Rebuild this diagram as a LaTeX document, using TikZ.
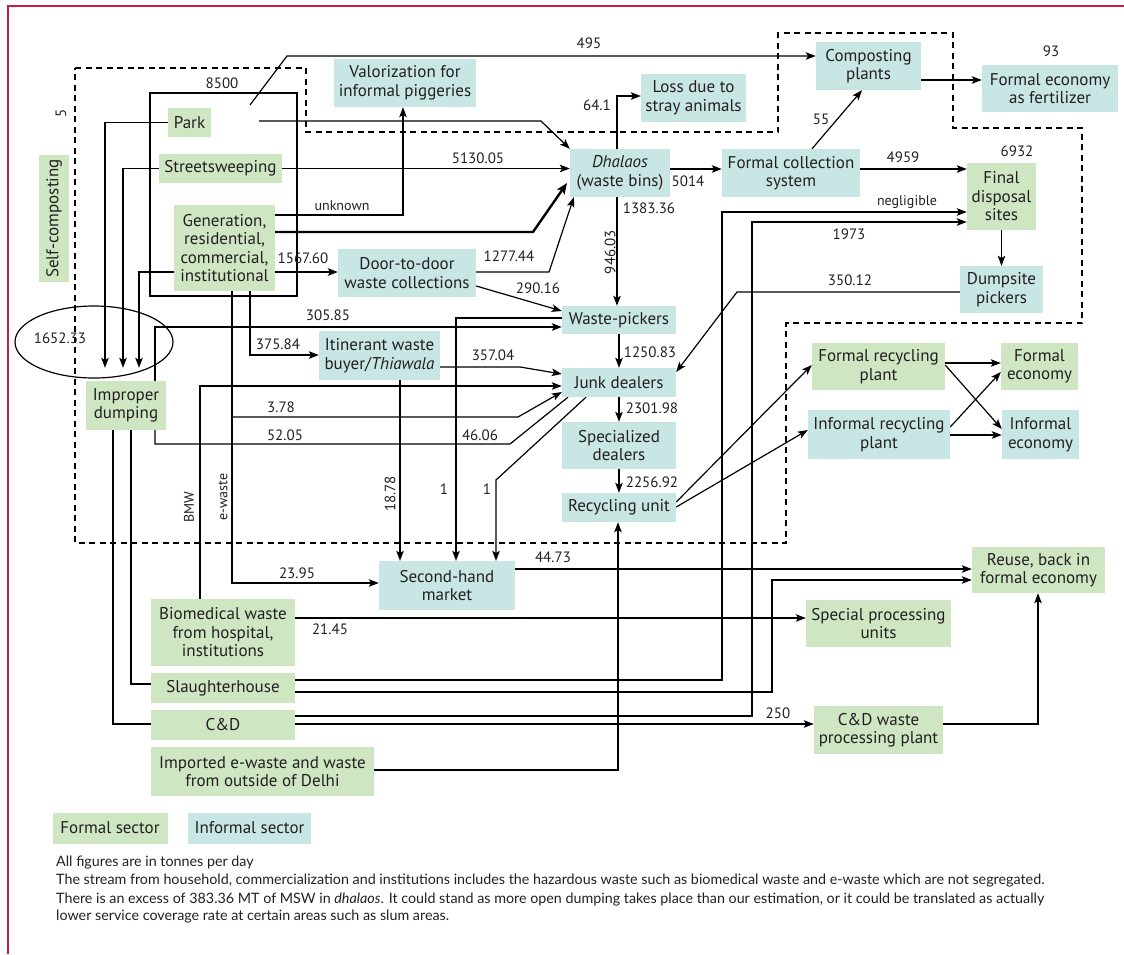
\documentclass[tikz,border=0pt]{standalone}
\usepackage{fontspec}
\setmainfont{PT Sans}
\newfontfamily\notefont{Lato}
\usetikzlibrary{arrows.meta,calc}
\definecolor{ink}{HTML}{231F20}
\definecolor{fgreen}{HTML}{CFE6C3}
\definecolor{iblue}{HTML}{C8E6E4}
\definecolor{frame}{HTML}{C8203C}
\pgfdeclarelayer{bg}
\pgfsetlayers{bg,main}
\begin{document}
\begin{tikzpicture}[x=1pt,y=-1pt,color=ink,
  nb/.style={align=center,inner sep=0pt,font=\fontsize{17}{18.5}\selectfont},
  fg/.style={nb,fill=fgreen},
  ig/.style={nb,fill=iblue},
  num/.style={inner sep=0pt,font=\fontsize{15}{17}\selectfont},
  slbl/.style={inner sep=0pt,font=\fontsize{14}{16}\selectfont},
  note/.style={inner sep=0pt,anchor=base west,font=\notefont\fontsize{14.3}{16}\selectfont},
  arr/.style={line width=1.2pt,-{Stealth[length=10pt,width=7.5pt,inset=2.2pt]}},
  ln/.style={line width=1.2pt},
  zone/.style={line width=1.8pt,dash pattern=on 6pt off 4.5pt},
]
\useasboundingbox (0,0) rectangle (1124,954);

% ---- boxes ----
\node[ig,minimum width=142,minimum height=48] (valor) at (405,83) {Valorization for\\informal piggeries};
\node[ig,minimum width=105,minimum height=48] (loss) at (693.5,98) {Loss due to\\stray animals};
\node[ig,minimum width=105,minimum height=48] (compost) at (868.5,66) {Composting\\plants};
\node[ig,minimum width=136,minimum height=47] (fert) at (1050,88.5) {Formal economy\\as fertilizer};
\node[fg,minimum width=43,minimum height=29] (park) at (189.5,122.5) {Park};
\node[fg,minimum width=123,minimum height=29] (street) at (220.5,168.5) {Streetsweeping};
\node[fg,minimum width=101,minimum height=86] (gen) at (224.5,248) {Generation,\\residential,\\commercial,\\institutional};
\node[ig,minimum width=100,minimum height=48] (dhalaos) at (620,173) {\textit{Dhalaos}\\(waste bins)};
\node[ig,minimum width=138,minimum height=48] (fcs) at (791,173) {Formal collection\\system};
\node[fg,minimum width=69,minimum height=67] (final) at (1001.5,196.5) {Final\\disposal\\sites};
\node[ig,minimum width=83,minimum height=47] (dump) at (1001.5,289.5) {Dumpsite\\pickers};
\node[ig,minimum width=138,minimum height=48] (d2d) at (407,273) {Door-to-door\\waste collections};
\node[ig,minimum width=114,minimum height=28] (wp) at (619,320) {Waste-pickers};
\node[ig,minimum width=121,minimum height=49] (itin) at (379.5,355.5) {Itinerant waste\\buyer/\textit{Thiawala}};
\node[ig,minimum width=114,minimum height=29] (junk) at (619,382.5) {Junk dealers};
\node[ig,minimum width=114,minimum height=47] (spec) at (619,445.5) {Specialized\\dealers};
\node[ig,minimum width=114,minimum height=29] (recyc) at (619,507.5) {Recycling unit};
\node[fg,minimum width=80,minimum height=49] (improper) at (126,405.5) {Improper\\dumping};
\node[fg,rotate=90,minimum width=127,minimum height=30] (selfcomp) at (54,218.5) {Self-composting};
\node[fg,minimum width=133,minimum height=47] (frp) at (878.5,366.5) {Formal recycling\\plant};
\node[ig,minimum width=142,minimum height=49] (irp) at (879,434.5) {Informal recycling\\plant};
\node[fg,minimum width=77,minimum height=47] (fe) at (1039.5,366.5) {Formal\\economy};
\node[ig,minimum width=77,minimum height=49] (ie) at (1040.5,434.5) {Informal\\economy};
\node[ig,minimum width=136,minimum height=49] (shm) at (447,585.5) {Second-hand\\market};
\node[fg,minimum width=133,minimum height=46] (reuse) at (1038.5,570) {Reuse, back in\\formal economy};
\node[fg,minimum width=145,minimum height=47] (spu) at (878.5,623.5) {Special processing\\units};
\node[fg,minimum width=129,minimum height=48] (cdp) at (878.5,730) {C\&D waste\\processing plant};
\node[fg,minimum width=144,minimum height=67] (bio) at (223,632.5) {Biomedical waste\\from hospital,\\institutions};
\node[fg,minimum width=144,minimum height=30] (slaughter) at (223,688) {Slaughterhouse};
\node[fg,minimum width=144,minimum height=30] (cd) at (223,725) {C\&D};
\node[fg,minimum width=223,minimum height=49] (imported) at (262.5,771.5) {Imported e-waste and waste\\from outside of Delhi};
\node[fg,minimum width=115,minimum height=31] (legf) at (110,828) {Formal sector};
\node[ig,minimum width=123,minimum height=31] (legi) at (249.5,828) {Informal sector};

% ---- free ends ----
\coordinate (s495) at (250,105);
\coordinate (sPark) at (259,121);
\coordinate (eBranch) at (232,417);

% ---- flow lines, behind the boxes ----
\begin{pgfonlayer}{bg}
  \draw[frame,line width=1.2pt] (8,954) -- (8,6) -- (1124,6);
  \draw[zone] (75,68) -- (306,68) -- (306,132) -- (778,132) -- (778,33) -- (953,33)
    -- (953,128) -- (1082,128) -- (1082,323) -- (786,323) -- (786,543) -- (75,543) -- cycle;
  \draw[ln] (150,93) rectangle (297,296);
  \draw[line width=1.2pt] (94,342) ellipse [x radius=79pt,y radius=36pt];

  \draw[arr] (s495) -- (287,56) -- (compost.west |- 0,56);
  \draw[arr] (sPark) -- (541,121) -- (dhalaos.north west);
  \draw[arr] (park.west) -- (105,122.5) -- ([yshift=13pt]improper.north -| 105,0);
  \draw[arr] (street.west) -- (123,168.5) -- ([yshift=13pt]improper.north -| 123,0);
  \draw[arr] (gen.west |- 0,272) -- (139,272) -- ([yshift=13pt]improper.north -| 139,0);
  \draw[arr] (street.east) -- (dhalaos.west |- street.east);
  \draw[arr] (gen.east |- 0,215) -- (403,215) -- (valor.south -| 403,0);
  \draw[line width=2.4pt,-{Stealth[length=11pt,width=9pt,inset=2.5pt]}] (gen.east |- 0,232) -- (533,232) -- (567,183);
  \draw[arr] (gen.east |- 0,272) -- (d2d.west |- 0,272);
  \draw[arr] (d2d.east |- 0,272) -- (549,272) -- ([xshift=4pt]dhalaos.south west);
  \draw[arr] (d2d.east |- 0,286) -- (wp.west |- 0,311);
  \draw[arr] (dhalaos.east |- 0,169) -- (fcs.west |- 0,169);
  \draw[arr] (dhalaos.north -| 617,0) -- (617,96) -- (loss.west |- 0,96);
  \draw[arr] (dhalaos.south -| 617,0) -- (wp.north -| 617,0);
  \draw[arr] (fcs.north -| 812,0) -- (compost.south -| 862,0);
  \draw[arr] (fcs.east |- 0,169) -- (final.west |- 0,169);
  \draw[arr] (compost.east |- 0,80) -- (fert.west |- 0,80);
  \draw[arr] (final.south) -- (dump.north);
  \draw[arr] (dump.west |- 0,292) -- (737,292) -- (junk.east |- 0,372);
  \draw[arr] (slaughter.east |- 0,680) -- (722,680) -- (722,212) -- (final.west |- 0,212);
  \draw[arr] (cd.east |- 0,716) -- (752,716) -- (752,222) -- (final.west |- 0,222);
  \draw[arr] (cd.east |- 0,724) -- (cdp.west |- 0,724);
  \draw[arr] (slaughter.east |- 0,692) -- (772,692) -- (772,580) -- (reuse.west |- 0,580);
  \draw[arr] (cdp.east |- 0,724) -- (1038,724) -- (reuse.south -| 1038,0);
  \draw[arr] (bio.east |- 0,618) -- (spu.west |- 0,618);
  \draw[arr] (shm.east |- 0,569) -- (reuse.west |- 0,569);
  \draw[arr] (imported.east |- 0,770) -- (618,770) -- (recyc.south -| 618,0);
  \draw[arr] (gen.south -| 250,0) -- (250,355) -- (itin.west |- 0,355);
  \draw[arr] (gen.south -| 232,0) -- (232,583) -- (shm.west |- 0,583);
  \draw[arr] (eBranch) -- (518,417) -- (junk.west |- 0,392);
  \draw[arr] (improper.north -| 155,0) -- (155,327) -- (wp.west |- 0,327);
  \draw[ln] (improper.south -| 155,0) -- (155,444) -- (510,444) -- (junk.south -| 568,0);
  \draw[arr] (wp.west |- 0,318) -- (456,318) -- (shm.north -| 456,0);
  \draw[arr] (junk.south -| 586,0) -- (496,480) -- (shm.north -| 496,0);
  \draw[arr] (itin.east |- 0,367) -- (520,367) -- (junk.west |- 0,374);
  \draw[arr] (itin.south -| 400,0) -- (shm.north -| 400,0);
  \draw[arr] (bio.north -| 200,0) -- (200,386) -- (junk.west |- 0,386);
  \draw[ln] (improper.south -| 113,0) -- (113,724) -- (cd.west |- 0,724);
  \draw[ln] (improper.south -| 131,0) -- (131,684) -- (slaughter.west |- 0,684);
  \draw[arr] (wp.south) -- (junk.north);
  \draw[arr] (junk.south) -- (spec.north);
  \draw[arr] (spec.south) -- (recyc.north);
  \draw[arr] (recyc.east |- 0,502) -- (frp.west |- 0,365);
  \draw[arr] (recyc.east |- 0,507) -- (irp.west |- 0,430);
  \draw[arr] (frp.east |- 0,363) -- (fe.west |- 0,363);
  \draw[arr] (frp.east |- 0,365) -- (ie.west |- 0,429);
  \draw[arr] (irp.east |- 0,427) -- (fe.west |- 0,372);
  \draw[arr] (irp.east |- 0,435) -- (ie.west |- 0,435);
\end{pgfonlayer}

% ---- quantities ----
\node[num] (l8500) at (222,83) {8500};
\node[num] (l495) at (589,43) {495};
\node[num] (l5130) at (478,158) {5130.05};
\node[slbl] (lunk) at (342,206) {unknown};
\node[num] (l1567) at (303,258) {1567.60};
\node[num] (l1277) at (509,256) {1277.44};
\node[num] (l290) at (538,288) {290.16};
\node[num] (l5014) at (688,181) {5014};
\node[num] (l641) at (597,105) {64.1};
\node[num] (l1383) at (649,208) {1383.36};
\node[num,rotate=90] (l946) at (610,252) {946.03};
\node[num] (l55) at (821,119) {55};
\node[num] (l4959) at (903,157) {4959};
\node[num] (l6932) at (1017,151) {6932};
\node[num] (l93) at (1051,51) {93};
\node[slbl] (lneg) at (907,202) {negligible};
\node[num] (l1973) at (849,234) {1973};
\node[num] (l350) at (850,280) {350.12};
\node[num] (l305) at (328,315) {305.85};
\node[num] (l375) at (278,344) {375.84};
\node[num] (l357) at (493,355) {357.04};
\node[num] (l1250) at (650,352) {1250.83};
\node[num] (l378) at (281,407) {3.78};
\node[num] (l52) at (285,435) {52.05};
\node[num] (l46) at (480,435) {46.06};
\node[num] (l2301) at (652,408) {2301.98};
\node[num] (l2256) at (652,482) {2256.92};
\node[num,rotate=90] (l1878) at (390,494) {18.78};
\node[num] (lone1) at (444,489) {1};
\node[num] (lone2) at (487,489) {1};
\node[slbl,rotate=90] (lbmw) at (189,507) {BMW};
\node[slbl,rotate=90] (lew) at (223,497) {e-waste};
\node[num] (l2395) at (297,573) {23.95};
\node[num] (l4473) at (553,557) {44.73};
\node[num] (l2145) at (330,629) {21.45};
\node[num] (l250) at (778,713) {250};
\node[num] (l1652) at (60,338) {1652.33};
\node[num,rotate=90] (l5) at (61,113) {5};

% ---- notes ----
\node[note] (n1) at (56,866) {All figures are in tonnes per day};
\node[note] (n2) at (56,884) {The stream from household, commercialization and institutions includes the hazardous waste such as biomedical waste and e-waste which are not segregated.};
\node[note] (n3) at (56,903) {There is an excess of 383.36 MT of MSW in \textit{dhalaos}. It could stand as more open dumping takes place than our estimation, or it could be translated as actually};
\node[note] (n4) at (56,920) {lower service coverage rate at certain areas such as slum areas.};
\end{tikzpicture}
\end{document}
